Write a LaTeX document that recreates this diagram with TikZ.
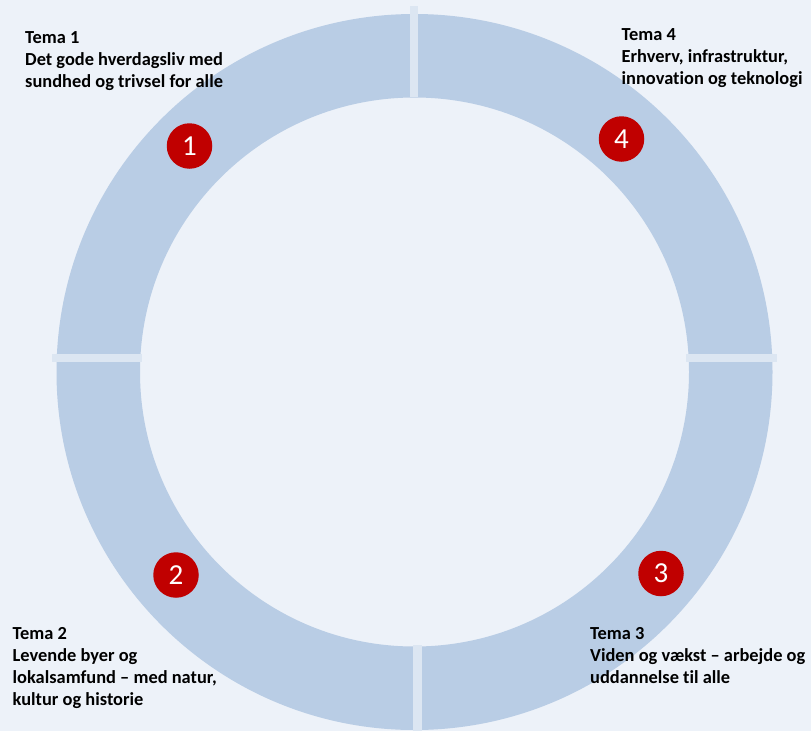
\documentclass[tikz,border=0pt]{standalone}
\usepackage{fontspec}
\setmainfont{Carlito}[RawFeature=-liga]
\definecolor{bgcol}{HTML}{EDF2F9}
\definecolor{ringcol}{HTML}{B9CDE5}
\definecolor{tickcol}{HTML}{DCE6F2}
\definecolor{badgecol}{HTML}{C00000}
\begin{document}
\begin{tikzpicture}[x=1pt,y=-1pt,
  ring/.style={fill=ringcol,even odd rule},
  tick/.style={fill=tickcol},
  badge/.style={circle,fill=badgecol,text=white,minimum size=45.5pt,inner sep=0pt,font=\fontsize{29}{29}\selectfont},
  lbl/.style={anchor=base west,inner sep=0pt,font=\fontsize{18.4}{22}\selectfont\bfseries,text=black}]
\useasboundingbox[fill=bgcol] (0,0) rectangle (811,731);
\coordinate (c) at (414.5,372);
\fill[ring] (c) circle[radius=358pt] (c) circle[radius=274.5pt];
\fill[tick] (410,6) rectangle (418,97);
\fill[tick] (413,645) rectangle (422,731);
\fill[tick] (52,354) rectangle (142,362);
\fill[tick] (686,354) rectangle (777,362);
\node[badge] (b1) at (189.5,146) {1};
\node[badge] (b4) at (621.5,139) {4};
\node[badge] (b2) at (176,575) {2};
\node[badge] (b3) at (661,573.5) {3};
\node[lbl] (t1a) at (25,43) {Tema 1};
\node[lbl] (t1b) at (25,65) {Det gode hverdagsliv med};
\node[lbl] (t1c) at (25,87) {sundhed og trivsel for alle};
\node[lbl] (t4a) at (621.5,40) {Tema 4};
\node[lbl] (t4b) at (621.5,62) {Erhverv, infrastruktur,};
\node[lbl] (t4c) at (621.5,84) {innovation og teknologi};
\node[lbl] (t2a) at (12.5,639) {Tema 2};
\node[lbl] (t2b) at (12.5,661) {Levende byer og};
\node[lbl] (t2c) at (12.5,683) {lokalsamfund – med natur,};
\node[lbl] (t2d) at (12.5,705) {kultur og historie};
\node[lbl] (t3a) at (590,639) {Tema 3};
\node[lbl] (t3b) at (590,661) {Viden og vækst – arbejde og};
\node[lbl] (t3c) at (590,683) {uddannelse til alle};
\end{tikzpicture}
\end{document}
